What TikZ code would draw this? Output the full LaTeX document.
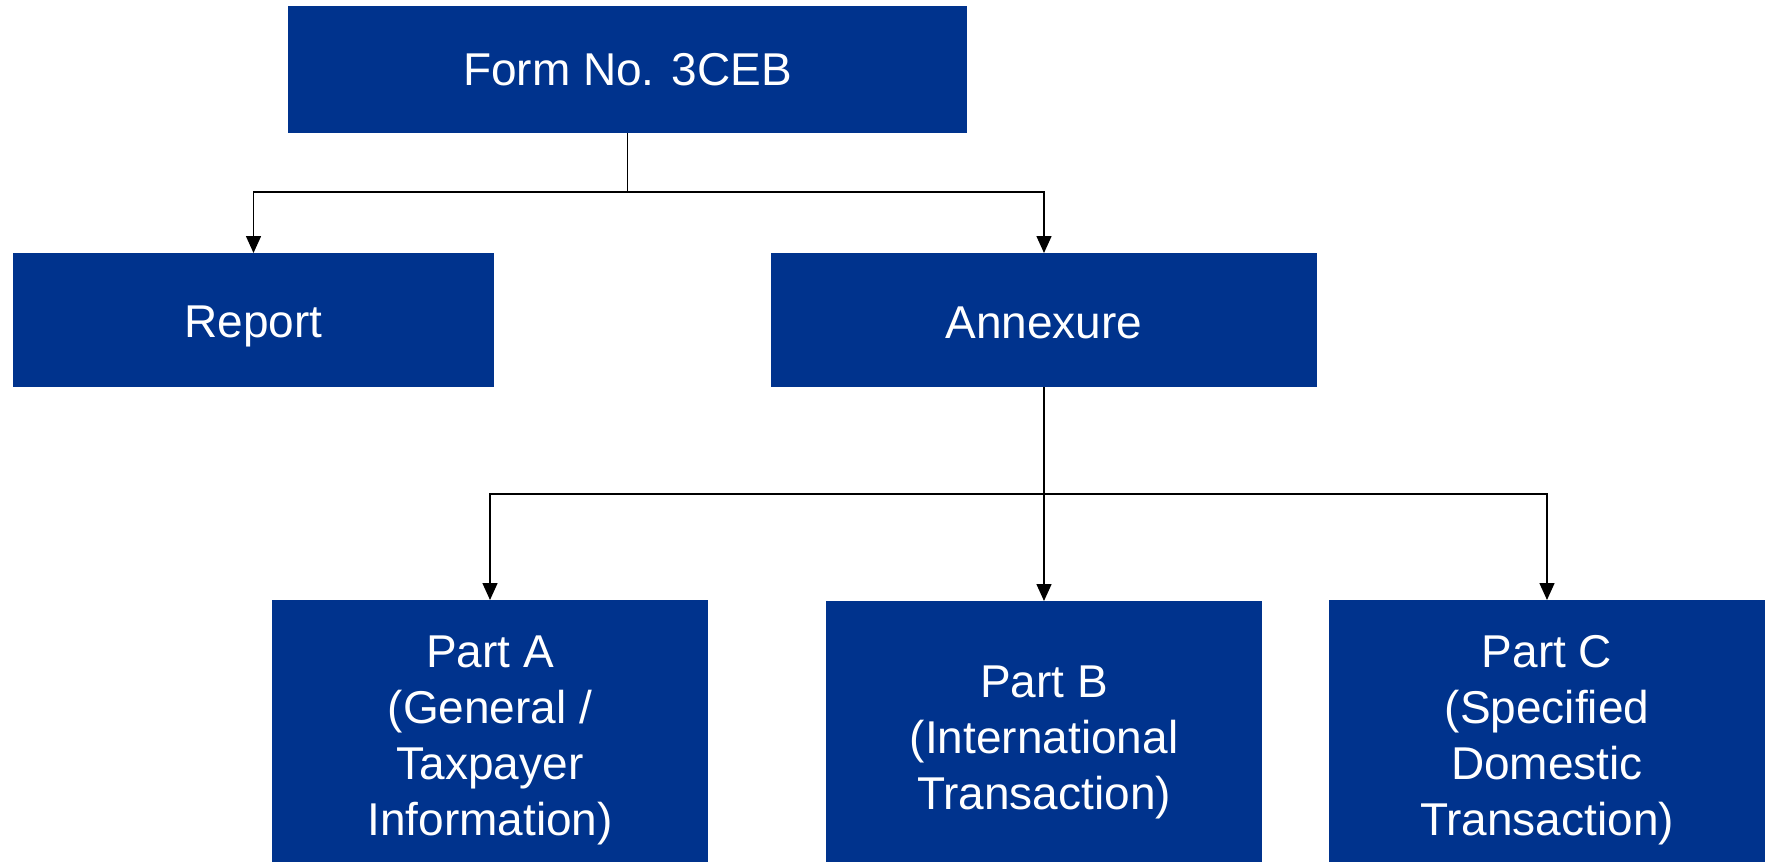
\documentclass[tikz,border=0pt]{standalone}
\usepackage{fontspec}
\setmainfont{Liberation Sans}
\usetikzlibrary{arrows.meta}
\definecolor{kblue}{HTML}{00338D}
\tikzset{
  blk/.style={fill=kblue, inner sep=0pt, anchor=north},
  txt/.style={text=white, inner sep=0pt, align=center,
    font=\fontsize{46}{56}\selectfont},
  conn/.style={draw=black, line width=1.5pt},
  arr/.style={conn, -{Triangle[length=17pt,width=15pt]}}
}
\begin{document}
\begin{tikzpicture}[x=1pt,y=-1pt]
\useasboundingbox (0,0) rectangle (1770,862);
\clip (0,0) rectangle (1770,862);
\node[blk, minimum width=679pt, minimum height=127pt,
  label={[txt]center:Form No. 3CEB}] (top) at (627.5,6) {};
\node[blk, minimum width=481pt, minimum height=134pt,
  label={[txt, yshift=-6pt]center:Report}] (report) at (253.5,253) {};
\node[blk, minimum width=546pt, minimum height=134pt,
  label={[txt, yshift=-3pt]center:Annexure}] (annex) at (1044,253) {};
\node[blk, minimum width=436pt, minimum height=270pt,
  label={[txt, yshift=-5pt]center:Part A\\(General /\\Taxpayer\\Information)}] (partA) at (490,600) {};
\node[blk, minimum width=436pt, minimum height=270pt,
  label={[txt, yshift=-6pt]center:Part B\\(International\\Transaction)}] (partB) at (1044,601) {};
\node[blk, minimum width=436pt, minimum height=270pt,
  label={[txt, yshift=-5pt]center:Part C\\(Specified\\Domestic\\Transaction)}] (partC) at (1547,600) {};
\coordinate (j1) at (627.5,192);
\coordinate (j2) at (1044,494);
\draw[conn] (top.south) -- (j1);
\draw[arr] (j1) -| (report.north);
\draw[arr] (j1) -| (annex.north);
\draw[conn, line width=2.5pt] (annex.south) -- (j2);
\draw[arr] (j2) -| (partA.north);
\draw[arr] (j2) -- (partB.north);
\draw[arr] (j2) -| (partC.north);
\end{tikzpicture}
\end{document}
